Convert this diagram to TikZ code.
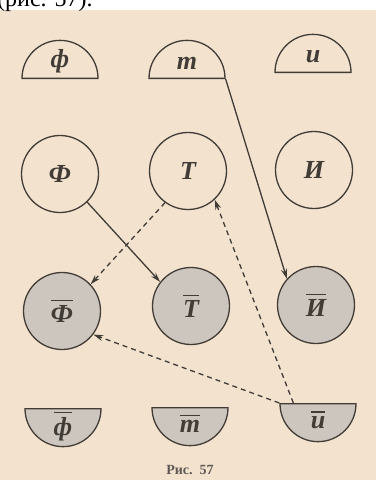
\documentclass[tikz,border=0pt]{standalone}
\usepackage{fontspec}
\setmainfont{Liberation Serif}
\usetikzlibrary{arrows.meta, shapes.geometric}

\definecolor{paper}{RGB}{242,226,206}
\definecolor{shade}{RGB}{205,198,190}
\definecolor{ink}{RGB}{66,60,55}
\newcommand{\ovl}[1]{\vbox{\hrule height 1.2pt \kern 4pt \hbox{#1}}}

\begin{document}
\begin{tikzpicture}[
    x=1pt, y=-1pt,
    >=Stealth,
    lbl/.style={font=\fontsize{26}{26}\selectfont\bfseries\itshape, text=ink},
    circ/.style={lbl, draw=ink, line width=1.3pt, circle, minimum size=77pt, inner sep=0pt},
    half/.style={lbl, draw=ink, line width=1.3pt, shape=semicircle, minimum width=76pt, inner sep=0pt},
    neg/.style={fill=shade},
    wire/.style={ink, line width=1.3pt, -{Stealth[length=10pt, width=6pt]}},
    dwire/.style={wire, dash pattern=on 5pt off 4pt}
]
\useasboundingbox (0,0) rectangle (376,480);
\fill[paper] (0,0) rectangle (376,480);
\fill[white] (0,0) rectangle (376,10);
\node[anchor=base west, inner sep=0pt, font=\fontsize{24}{24}\selectfont] (ref) at (-3,6) {(рис. 57).};

% sets
\node[half, anchor=chord center] (f) at (60,79) {ф};
\node[half, anchor=chord center] (t) at (187,79) {т};
\node[half, anchor=chord center] (i) at (313,73) {и};

\node[circ] (F) at (60,174) {Ф};
\node[circ] (T) at (188,171) {Т};
\node[circ] (I) at (314,170) {И};

% complements
\node[circ, neg] (Fn) at (62,311) {\ovl{Ф}};
\node[circ, neg] (Tn) at (191,306) {\ovl{Т}};
\node[circ, neg] (In) at (316,305) {\ovl{И}};

\node[half, neg, shape border rotate=180, anchor=chord center] (fn) at (63,408) {\ovl{ф}};
\node[half, neg, shape border rotate=180, anchor=chord center] (tn) at (190,407) {\ovl{т}};
\node[half, neg, shape border rotate=180, anchor=chord center] (un) at (318,403) {\ovl{и}};

\node[font=\bfseries\fontsize{14}{14}\selectfont, text=ink!85] (cap) at (190,470) {Рис.~~57};

\draw[wire] (t.arc start) -- (In.138);
\draw[wire] (F.-46) -- (Tn.142);
\draw[dwire] (T.234) -- (Fn.43);
\draw[dwire] ([xshift=14pt]un.arc start) -- (T.-47);
\draw[dwire] (un.arc start) -- (Fn.-37);

\end{tikzpicture}
\end{document}
